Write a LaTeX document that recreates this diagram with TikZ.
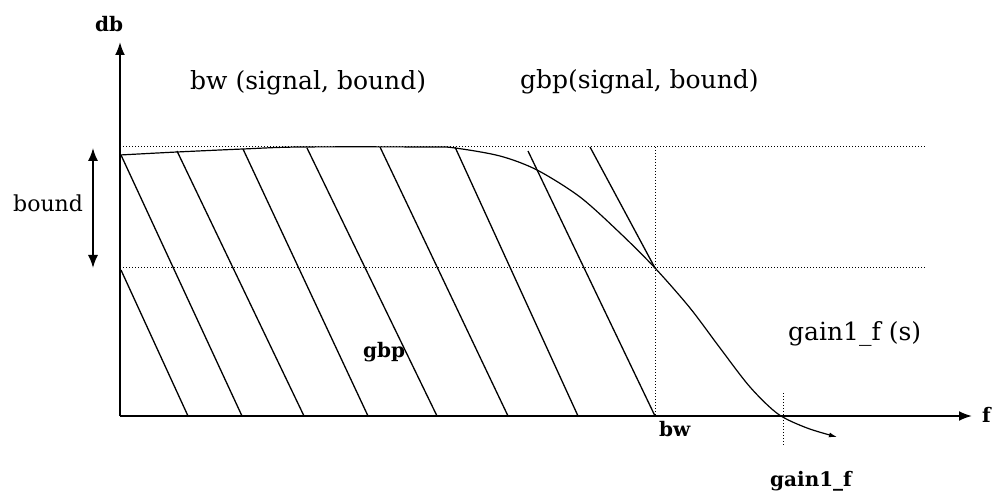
\documentclass[tikz,border=0pt]{standalone}
\usepackage{fontspec}
\setmainfont{DejaVu Serif}
\usetikzlibrary{arrows.meta}
\begin{document}
\begin{tikzpicture}[x=1pt,y=-1pt,
  axisline/.style={line width=2pt,-{Latex[length=13pt,width=10pt]}},
  boundarrow/.style={line width=1.6pt,{Latex[length=13pt,width=10pt]}-{Latex[length=13pt,width=10pt]}},
  hatchline/.style={line width=1.3pt},
  guide/.style={line width=1pt,dash pattern=on 1pt off 2pt},
  curveline/.style={line width=1.2pt,-{Latex[length=8pt,width=5pt]}},
  lbl/.style={font=\fontsize{25}{29}\selectfont, inner sep=0pt, anchor=base west},
  blbl/.style={font=\fontsize{20}{24}\selectfont\bfseries, inner sep=0pt, anchor=base west}]
\useasboundingbox (0,0) rectangle (1000,502);
% key points
\coordinate (O) at (120,416);
\coordinate (ytop) at (120,42);
\coordinate (xend) at (972,416);
\coordinate (hiL) at (120,147);
\coordinate (hiR) at (925,147);
\coordinate (loL) at (120,268);
\coordinate (loR) at (925,268);
\coordinate (bwtop) at (655,147);
\coordinate (bwbot) at (655,416);
\coordinate (gtop) at (783,393);
\coordinate (gbot) at (783,445);
\coordinate (bdtop) at (93,148);
\coordinate (bdbot) at (93,268);
% guides
\draw[guide] (hiL) -- (hiR);
\draw[guide] (loL) -- (loR);
\draw[guide] (bwtop) -- (bwbot);
\draw[guide] (gtop) -- (gbot);
% hatching
\draw[hatchline] (121,270) -- (188,416);
\draw[hatchline] (121,155) -- (242,416);
\draw[hatchline] (177,151) -- (304,416);
\draw[hatchline] (243,149) -- (368,416);
\draw[hatchline] (307,148) -- (437,416);
\draw[hatchline] (380,147) -- (508,416);
\draw[hatchline] (455,147) -- (578,416);
\draw[hatchline] (528,151) -- (655,416);
\draw[hatchline] (590,147) -- (655,268);
% response curve
\draw[curveline] plot[smooth,tension=0.5] coordinates {(120,155) (177,152) (243,149) (300,147) (430,147) (455,148) (500,156) (537,170) (580,197) (620,233) (655,268) (690,308) (720,348) (750,387) (778,414) (807,428) (837,437)};
% axes
\draw[axisline] (O) -- (ytop);
\draw[axisline] (O) -- (xend);
\draw[boundarrow] (bdtop) -- (bdbot);
% labels
\node[blbl] (db) at (95,32) {db};
\node[blbl] (fl) at (982,422) {f};
\node[blbl] (gbpl) at (363,357) {gbp};
\node[blbl] (bwl) at (659,436) {bw};
\node[blbl] (g1f) at (770,486) {gain1\_f};
\node[lbl] (bwsig) at (190,90) {bw (signal, bound)};
\node[lbl] (gbpsig) at (520,89) {gbp(signal, bound)};
\node[lbl, font=\fontsize{22}{26}\selectfont] (boundl) at (13,212) {bound};
\node[lbl] (gfs) at (788,340) {gain1\_f (s)};
\end{tikzpicture}
\end{document}
